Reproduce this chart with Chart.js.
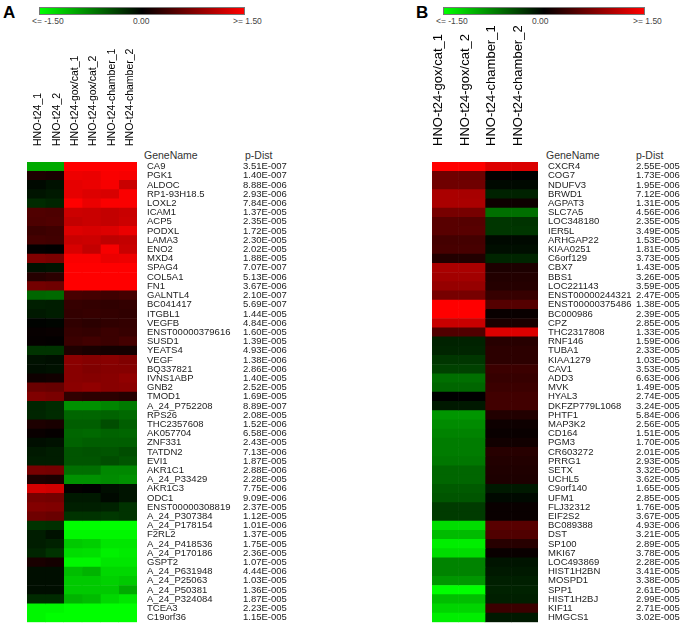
<!DOCTYPE html>
<html>
<head>
<meta charset="utf-8">
<script src="https://cdn.jsdelivr.net/npm/chart.js@4.4.1/dist/chart.umd.min.js"></script>
<style>
  html, body { margin: 0; padding: 0; background: #fff; }
  body { width: 685px; height: 638px; position: relative; overflow: hidden; font-family: "Liberation Sans", Arial, sans-serif; }
  .abs { position: absolute; white-space: nowrap; }
  .letter { font-weight: bold; font-size: 17px; color: #000; }
  .bar { height: 8px; border: 1px solid #777; box-sizing: border-box; background: linear-gradient(to right, #00ff00, #000000 50%, #ff0000); }
  .blab { font-size: 8.5px; color: #444; }
  .hdr { font-size: 10.5px; color: #333; }
  #cA { position: absolute; left: 0; top: 0; }
  #cB { position: absolute; left: 340px; top: 0; }
</style>
</head>
<body>
<div class="abs letter" style="left:3px;top:3px;">A</div>
<div class="abs letter" style="left:416px;top:3px;">B</div>
<div class="abs bar" style="left:39px;top:7px;width:206px;"></div>
<div class="abs blab" style="left:32px;top:16px;">&lt;= -1.50</div>
<div class="abs blab" style="left:133px;top:16px;">0.00</div>
<div class="abs blab" style="left:233px;top:16px;">&gt;= 1.50</div>
<div class="abs bar" style="left:443px;top:7px;width:202px;"></div>
<div class="abs blab" style="left:436px;top:16px;">&lt;= -1.50</div>
<div class="abs blab" style="left:532px;top:16px;">0.00</div>
<div class="abs blab" style="left:633px;top:16px;">&gt;= 1.50</div>
<div class="abs hdr" style="left:144px;top:149px;">GeneName</div>
<div class="abs hdr" style="left:245px;top:149px;">p-Dist</div>
<div class="abs hdr" style="left:546px;top:149px;">GeneName</div>
<div class="abs hdr" style="left:636px;top:149px;">p-Dist</div>
<canvas id="cA" width="340" height="638"></canvas>
<canvas id="cB" width="345" height="638"></canvas>
<script>
// ---------------- Panel A data ----------------
const colsA = ["HNO-t24_1", "HNO-t24_2", "HNO-t24-gox/cat_1", "HNO-t24-gox/cat_2", "HNO-t24-chamber_1", "HNO-t24-chamber_2"];
const genesA = ["CA9","PGK1","ALDOC","RP1-93H18.5","LOXL2","ICAM1","ACP5","PODXL","LAMA3","ENO2","MXD4","SPAG4","COL5A1","FN1","GALNTL4","BC041417","ITGBL1","VEGFB","ENST00000379616","SUSD1","YEATS4","VEGF","BQ337821","IVNS1ABP","GNB2","TMOD1","A_24_P752208","RPS26","THC2357608","AK057704","ZNF331","TATDN2","EVI1","AKR1C1","A_24_P33429","AKR1C3","ODC1","ENST00000308819","A_24_P307384","A_24_P178154","F2RL2","A_24_P418536","A_24_P170186","GSPT2","A_24_P631948","A_24_P25063","A_24_P50381","A_24_P324084","TCEA3","C19orf36"];
const pDistA = ["3.51E-007","1.40E-007","8.88E-006","2.93E-006","7.84E-006","1.37E-005","2.35E-005","1.72E-005","2.30E-005","2.02E-005","1.88E-005","7.07E-007","5.13E-006","3.67E-006","2.10E-007","5.69E-007","1.44E-005","4.84E-006","1.60E-005","1.39E-005","4.93E-006","1.38E-006","2.86E-006","1.40E-005","2.52E-005","1.69E-005","8.89E-007","2.08E-005","1.52E-006","6.58E-006","2.43E-005","7.13E-006","1.87E-005","2.88E-006","2.28E-005","7.75E-006","9.09E-006","2.37E-005","1.12E-005","1.01E-006","1.37E-005","1.75E-005","2.36E-005","1.07E-005","4.44E-006","1.03E-005","1.36E-005","1.87E-005","2.23E-005","1.15E-005"];
const aT24_1 = [-1.0,0.17,-0.05,-0.12,-0.25,0.47,0.45,0.35,0.4,0.02,0.75,-0.1,0.22,0.68,-0.6,-0.18,-0.15,-0.02,0.04,0.03,-0.3,-0.1,-0.08,0.08,0.62,0.75,-0.22,-0.22,0.17,0.05,-0.08,-0.15,-0.17,0.7,0.17,1.25,0.7,0.77,0.65,-0.3,-0.17,-0.17,-0.22,0.15,-0.08,-0.08,-0.08,-0.25,-1.45,-1.45];
const aT24_2 = [-1.0,0.15,-0.1,-0.15,-0.22,0.45,0.47,0.37,0.38,0.0,0.72,-0.12,0.25,0.65,-0.62,-0.17,-0.17,-0.03,0.05,0.02,-0.3,-0.08,-0.1,0.1,0.6,0.72,-0.25,-0.25,0.15,0.03,-0.1,-0.17,-0.17,0.68,0.15,1.22,0.68,0.75,0.62,-0.28,-0.1,-0.2,-0.3,0.12,-0.08,-0.08,-0.08,-0.25,-1.45,-1.5];
const aGox_1 = [1.5,1.4,1.35,1.35,1.5,1.2,1.15,1.3,1.18,1.27,1.47,1.5,1.5,1.5,0.42,0.32,0.3,0.28,0.32,0.35,0.18,0.82,0.8,0.8,0.82,0.28,-0.85,-0.6,-0.55,-0.6,-0.58,-0.5,-0.5,-0.65,-0.85,0.02,-0.15,-0.18,-0.3,-1.5,-1.45,-1.18,-1.3,-1.45,-1.12,-1.18,-1.18,-1.05,-1.5,-1.5];
const aGox_2 = [1.5,1.38,1.38,1.3,1.38,1.18,1.18,1.27,1.2,1.15,1.47,1.5,1.5,1.5,0.4,0.3,0.32,0.25,0.3,0.38,0.15,0.78,0.75,0.78,0.85,0.25,-0.85,-0.6,-0.55,-0.62,-0.55,-0.48,-0.5,-0.65,-0.85,0.0,-0.15,-0.18,-0.3,-1.5,-1.45,-1.22,-1.32,-1.45,-1.05,-1.18,-1.18,-1.1,-1.5,-1.5];
const aCh_1 = [1.5,1.47,1.45,1.27,1.47,1.15,1.15,1.3,1.12,1.45,1.38,1.5,1.5,1.5,0.37,0.28,0.3,0.28,0.35,0.35,0.12,0.8,0.78,0.8,0.8,0.25,-0.78,-0.58,-0.45,-0.58,-0.55,-0.5,-0.45,-0.8,-0.82,-0.08,-0.05,-0.2,-0.33,-1.5,-1.45,-1.35,-1.42,-1.35,-1.27,-1.23,-1.18,-1.27,-1.5,-1.5];
const aCh_2 = [1.5,1.45,1.18,1.47,1.47,1.18,1.2,1.38,1.15,1.18,1.4,1.5,1.5,1.5,0.4,0.3,0.28,0.3,0.32,0.4,0.12,0.75,0.78,0.85,0.82,0.22,-0.72,-0.62,-0.55,-0.6,-0.55,-0.45,-0.5,-0.8,-0.85,-0.12,-0.12,-0.3,-0.3,-1.5,-1.45,-1.35,-1.38,-1.35,-1.27,-1.18,-1.0,-1.35,-1.5,-1.5];

// ---------------- Panel B data ----------------
const colsB = ["HNO-t24-gox/cat_1", "HNO-t24-gox/cat_2", "HNO-t24-chamber_1", "HNO-t24-chamber_2"];
const genesB = ["CXCR4","COG7","NDUFV3","BRWD1","AGPAT3","SLC7A5","LOC348180","IER5L","ARHGAP22","KIAA0251","C6orf129","CBX7","BBS1","LOC221143","ENST00000244321","ENST00000375486","BC000986","CPZ","THC2317808","RNF146","TUBA1","KIAA1279","CAV1","ADD3","MVK","HYAL3","DKFZP779L1068","PHTF1","MAP3K2","CD164","PGM3","CR603272","PRRG1","SETX","UCHL5","C9orf140","UFM1","FLJ32312","EIF2S2","BC089388","DST","SP100","MKI67","LOC493869","HIST1H2BN","MOSPD1","SPP1","HIST1H2BJ","KIF11","HMGCS1"];
const pDistB = ["2.55E-005","1.73E-006","1.95E-006","7.12E-006","1.31E-005","4.56E-006","2.35E-005","3.49E-005","1.53E-005","1.81E-005","3.73E-005","1.43E-005","3.26E-005","3.59E-005","2.47E-005","1.38E-005","2.39E-005","2.85E-005","1.33E-005","1.59E-006","2.33E-005","1.03E-005","3.53E-005","6.63E-006","1.49E-005","2.74E-005","3.24E-005","5.84E-006","2.56E-005","1.51E-005","1.70E-005","2.01E-005","2.93E-005","3.32E-005","3.62E-005","1.65E-005","2.85E-005","1.76E-005","3.67E-005","4.93E-006","3.21E-005","2.89E-005","3.78E-005","2.28E-005","3.41E-005","3.38E-005","2.61E-005","2.99E-005","2.71E-005","3.02E-005"];
const bGox_1 = [1.5,0.65,0.65,1.0,1.0,0.7,0.52,0.52,0.4,0.42,0.2,1.0,0.95,0.88,0.7,1.5,1.5,1.18,0.47,-0.2,-0.22,-0.32,-0.38,-0.65,-0.6,0.0,-0.15,-0.88,-0.82,-0.77,-0.73,-0.73,-0.7,-0.6,-0.6,-0.53,-0.5,-0.35,-0.35,-1.3,-1.1,-1.4,-1.3,-0.77,-0.77,-0.88,-1.5,-1.12,-1.25,-1.4];
const bGox_2 = [1.5,0.63,0.65,0.98,1.0,0.7,0.5,0.52,0.4,0.42,0.2,1.0,0.95,0.88,0.7,1.5,1.5,1.18,0.47,-0.2,-0.22,-0.32,-0.38,-0.65,-0.6,0.0,-0.15,-0.88,-0.82,-0.77,-0.73,-0.73,-0.7,-0.6,-0.6,-0.53,-0.5,-0.35,-0.35,-1.3,-1.1,-1.4,-1.3,-0.77,-0.77,-0.88,-1.5,-1.12,-1.25,-1.4];
const bCh_1 = [1.3,0.02,-0.05,-0.2,0.08,-0.65,-0.32,-0.32,-0.05,-0.08,-0.22,0.17,0.2,0.22,0.32,0.5,0.05,0.15,1.3,0.23,0.26,0.26,0.35,0.32,0.35,0.38,0.38,0.2,0.08,0.05,0.1,0.23,0.2,0.18,0.17,-0.15,-0.05,0.05,0.05,0.52,0.47,0.23,0.05,-0.12,-0.15,-0.18,-0.2,-0.18,0.35,-0.15];
const bCh_2 = [1.28,0.0,-0.05,-0.2,0.08,-0.65,-0.3,-0.32,-0.05,-0.08,-0.22,0.17,0.2,0.22,0.32,0.5,0.05,0.15,1.3,0.23,0.26,0.26,0.35,0.32,0.35,0.38,0.38,0.2,0.08,0.05,0.1,0.23,0.2,0.18,0.17,-0.15,-0.05,0.05,0.05,0.52,0.47,0.23,0.05,-0.12,-0.15,-0.18,-0.2,-0.18,0.35,-0.15];

// ---------------- helpers ----------------
function heatColor(v) {
  const t = Math.min(Math.abs(v), 1.5) / 1.5;
  const c = Math.round(255 * t);
  return v >= 0 ? `rgb(${c},0,0)` : `rgb(0,${c},0)`;
}
const FONT = '"Liberation Sans", Arial, sans-serif';

function makeHeatmap(canvasId, cols, genes, pdist, columnValues, geo) {
  const datasets = columnValues.map((vals, i) => ({
    label: cols[i],
    data: genes.map(() => 1),
    backgroundColor: vals.map(heatColor),
    borderWidth: 0,
    barPercentage: 1,
    categoryPercentage: 1,
    stack: 's'
  }));
  return new Chart(document.getElementById(canvasId), {
    type: 'bar',
    data: { labels: genes, datasets },
    options: {
      indexAxis: 'y',
      responsive: false,
      animation: false,
      events: [],
      layout: { padding: { left: geo.left, top: 0, right: 0, bottom: geo.bottom } },
      plugins: { legend: { display: false }, tooltip: { enabled: false } },
      scales: {
        x: {
          type: 'linear', position: 'top', stacked: true, min: 0, max: cols.length,
          afterBuildTicks: s => { s.ticks = cols.map((c, i) => ({ value: i + 0.5 })); },
          afterFit: s => { s.height = geo.top; },
          grid: { display: false, drawTicks: false }, border: { display: false },
          ticks: {
            autoSkip: false, minRotation: 90, maxRotation: 90, padding: geo.colPad,
            labelOffset: geo.colOffset,
            color: '#000', font: { family: FONT, size: geo.colFont },
            callback: (v, i) => cols[i]
          }
        },
        y: {
          type: 'category', position: 'right', stacked: true, offset: true, weight: 0,
          afterFit: s => { s.width = geo.geneW; },
          grid: { display: false, drawTicks: false }, border: { display: false },
          ticks: { autoSkip: false, padding: geo.genePad, color: '#222', font: { family: FONT, size: 9.5 } }
        },
        y2: {
          type: 'category', position: 'right', labels: pdist, offset: true, weight: 1,
          afterFit: s => { s.width = geo.pW; },
          grid: { display: false, drawTicks: false }, border: { display: false },
          ticks: { autoSkip: false, padding: 0, color: '#222', font: { family: FONT, size: 9.5 } }
        }
      }
    }
  });
}

makeHeatmap('cA', colsA, genesA, pDistA, [aT24_1, aT24_2, aGox_1, aGox_2, aCh_1, aCh_2],
  { left: 27, top: 162, bottom: 9, geneW: 106, genePad: 10, pW: 97, colPad: 16, colOffset: 15, colFont: 10.5 });
makeHeatmap('cB', colsB, genesB, pDistB, [bGox_1, bGox_2, bCh_1, bCh_2],
  { left: 92, top: 162, bottom: 9, geneW: 98, genePad: 10, pW: 49, colPad: 16, colOffset: 9, colFont: 13 });
</script>
</body>
</html>
